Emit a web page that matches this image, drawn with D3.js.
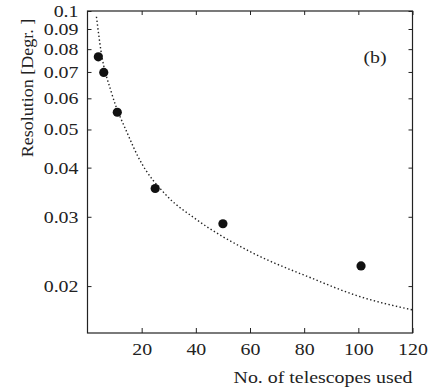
<!DOCTYPE html>
<html>
<head>
<meta charset="utf-8">
<script src="https://cdn.jsdelivr.net/npm/d3@7"></script>
<style>
  html, body { margin: 0; padding: 0; background: #fff; }
  svg { display: block; }
  text { font-family: "Liberation Serif", "DejaVu Serif", serif; fill: #222; }
</style>
</head>
<body>
<svg id="chart" width="434" height="387"></svg>
<script>
// Measured angular resolution versus number of telescopes
const telescopes = [4, 6, 11, 25, 50, 101];
const resolution = [0.0765, 0.0698, 0.0553, 0.0354, 0.0288, 0.0225];

// Dotted reference curve, sampled along its length
const curveN = [3.3, 5, 8.8, 15, 18.7, 29.7, 39.4, 60.4, 82.4, 99.6, 120];
const curveRes = [0.0967, 0.079, 0.0622, 0.0484, 0.0426, 0.0337, 0.0298, 0.0244, 0.0210, 0.0189, 0.0174];

const xTicks = [20, 40, 60, 80, 100, 120];
const yTicks = [0.02, 0.03, 0.04, 0.05, 0.06, 0.07, 0.08, 0.09, 0.1];

const xTitle = "No. of telescopes used";
const yTitle = "Resolution [Degr. ]";
const panelLabel = "(b)";

const svg = d3.select("#chart");
const plotLeft = 87.5, plotRight = 412.5, plotTop = 11, plotBottom = 333;

const x = d3.scaleLinear().domain([0, 120]).range([plotLeft, plotRight]);
const y = d3.scaleLog().domain([0.0152, 0.1]).range([plotBottom, plotTop]);

const ink = "#222";
const widen = 1.17; // glyphs are set slightly wide

// Stretch text horizontally along its own baseline
function stretch(sel, factor) {
  sel.each(function () {
    const w = this.getComputedTextLength();
    d3.select(this).attr("textLength", w * factor).attr("lengthAdjust", "spacingAndGlyphs");
  });
}

// Left axis with inward ticks and labels
const yAxis = d3.axisLeft(y).tickValues(yTicks).tickSize(-4).tickPadding(9)
  .tickFormat(d => String(+d.toFixed(2)));
const gy = svg.append("g").attr("transform", `translate(${plotLeft},0)`).call(yAxis);
gy.select(".domain").remove();
gy.selectAll("line").attr("stroke", ink);
gy.selectAll("text").attr("font-size", 17).attr("fill", ink)
  .attr("font-family", "Liberation Serif, serif").call(stretch, widen);

// Right axis mirrored ticks
const gyr = svg.append("g").attr("transform", `translate(${plotRight},0)`)
  .call(d3.axisRight(y).tickValues(yTicks).tickSize(-4).tickFormat(""));
gyr.select(".domain").remove();
gyr.selectAll("line").attr("stroke", ink);

// Bottom axis
const xAxis = d3.axisBottom(x).tickValues(xTicks).tickSize(-5).tickPadding(10);
const gx = svg.append("g").attr("transform", `translate(0,${plotBottom})`).call(xAxis);
gx.select(".domain").remove();
gx.selectAll("line").attr("stroke", ink);
gx.selectAll("text").attr("font-size", 17).attr("fill", ink)
  .attr("font-family", "Liberation Serif, serif").call(stretch, widen);

// Top mirrored ticks
const gxt = svg.append("g").attr("transform", `translate(0,${plotTop})`)
  .call(d3.axisTop(x).tickValues(xTicks).tickSize(-4).tickFormat(""));
gxt.select(".domain").remove();
gxt.selectAll("line").attr("stroke", ink);

// Frame
svg.append("rect")
  .attr("x", plotLeft).attr("y", plotTop)
  .attr("width", plotRight - plotLeft).attr("height", plotBottom - plotTop)
  .attr("fill", "none").attr("stroke", ink).attr("stroke-width", 1.2);

// Dotted curve
const line = d3.line().x(d => x(d[0])).y(d => y(d[1])).curve(d3.curveMonotoneX);
svg.append("path")
  .datum(curveN.map((n, i) => [n, curveRes[i]]))
  .attr("d", line)
  .attr("fill", "none").attr("stroke", ink)
  .attr("stroke-width", 1.4).attr("stroke-dasharray", "1.4,2.4");

// Data points
svg.append("g").selectAll("circle")
  .data(telescopes.map((n, i) => [n, resolution[i]]))
  .join("circle")
  .attr("cx", d => x(d[0])).attr("cy", d => y(d[1]))
  .attr("r", 4.6).attr("fill", "#111");

// Panel label
svg.append("text").attr("x", 375).attr("y", 63)
  .attr("text-anchor", "middle").attr("font-size", 17).text(panelLabel)
  .call(stretch, widen);

// Axis titles
svg.append("text").attr("x", plotRight).attr("y", 383)
  .attr("text-anchor", "end").attr("font-size", 17).text(xTitle)
  .call(stretch, widen);
svg.append("text")
  .attr("transform", `translate(33,88) rotate(-90)`)
  .attr("text-anchor", "middle").attr("font-size", 17).text(yTitle)
  .call(stretch, 1.06);
</script>
</body>
</html>
